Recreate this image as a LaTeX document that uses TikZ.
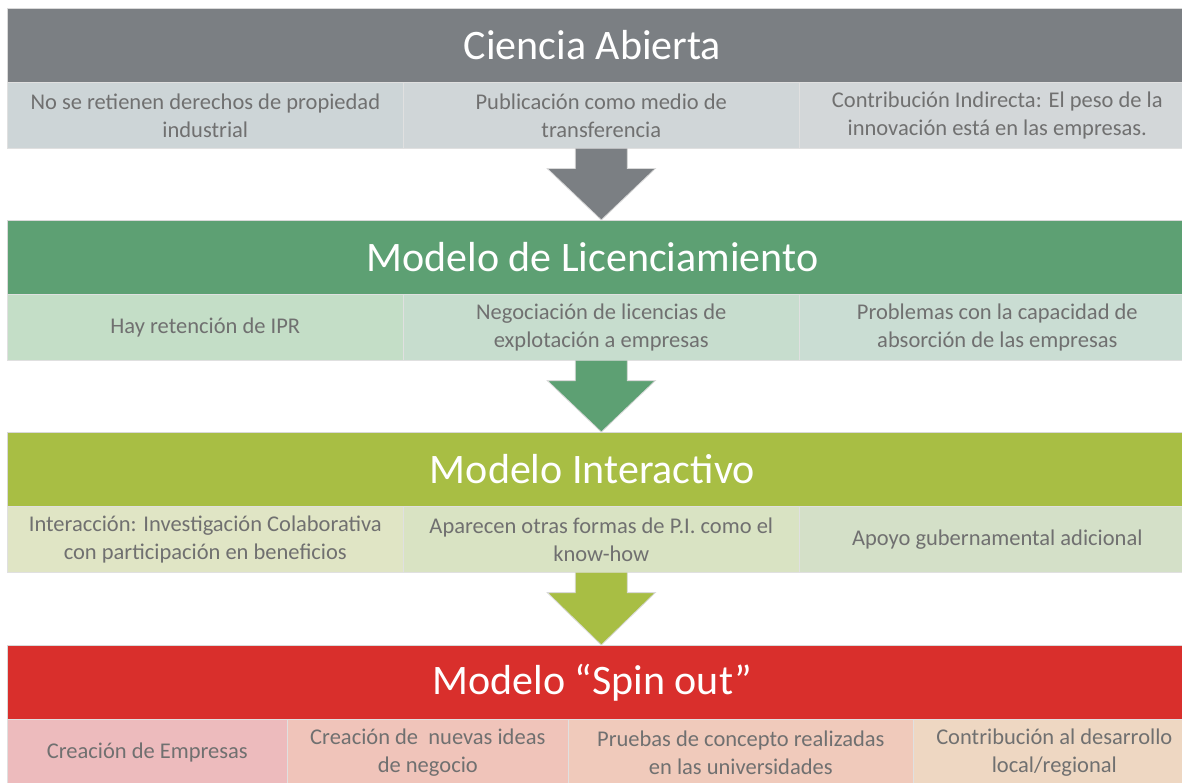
\documentclass[tikz,border=0pt]{standalone}
\usepackage{fontspec}
\setmainfont{Carlito}
\usetikzlibrary{calc}
\definecolor{txtgray}{HTML}{707070}
\definecolor{grayH}{HTML}{7B7F83}
\definecolor{grayA}{HTML}{CDD5D7}
\definecolor{grayB}{HTML}{D0D6D8}
\definecolor{grayC}{HTML}{D3D7D9}
\definecolor{greenH}{HTML}{5DA073}
\definecolor{greenA}{HTML}{C4DEC7}
\definecolor{greenB}{HTML}{C7DDCE}
\definecolor{greenC}{HTML}{CADDD3}
\definecolor{oliveH}{HTML}{A8BE44}
\definecolor{oliveA}{HTML}{E0E5C5}
\definecolor{oliveB}{HTML}{D9E3C3}
\definecolor{oliveC}{HTML}{D4E0C8}
\definecolor{redH}{HTML}{D92F2C}
\definecolor{redA}{HTML}{EDBBBD}
\definecolor{redB}{HTML}{F0C4BA}
\definecolor{redC}{HTML}{F0CABB}
\definecolor{redD}{HTML}{EED7C2}
\begin{document}
\begin{tikzpicture}[x=1pt,y=-1pt,
  hdr/.style={draw=white!85!black, line width=0.8pt, minimum height=74pt,
    minimum width=1188pt, anchor=north west, inner sep=0pt,
    font=\fontsize{42}{46}\selectfont, text=white,
    execute at begin node=\kern-18pt},
  cell/.style={draw=white!88!black, line width=0.6pt, minimum height=66pt,
    anchor=north west, inner sep=0pt, align=center,
    font=\fontsize{22.5}{28}\selectfont, text=txtgray},
  flow/.style={draw=white!85!black, line width=0.8pt}]
\useasboundingbox[fill=white] (0,0) rectangle (1182,783);

% Band 1
\node[hdr, fill=grayH] (h1) at (7,8) {Ciencia Abierta};
\node[cell, fill=grayA, minimum width=396pt] (a1) at (7,82) {No se retienen derechos de propiedad\\industrial};
\node[cell, fill=grayB, minimum width=396pt] (a2) at (403,82) {Publicación como medio de\\transferencia};
\node[cell, fill=grayC, minimum width=396pt] (a3) at (799,82) {Contribución Indirecta: El peso de la\\innovación está en las empresas.};

% Band 2
\node[hdr, fill=greenH] (h2) at (7,220) {Modelo de Licenciamiento};
\node[cell, fill=greenA, minimum width=396pt] (b1) at (7,294) {Hay retención de IPR};
\node[cell, fill=greenB, minimum width=396pt] (b2) at (403,294) {Negociación de licencias de\\explotación a empresas};
\node[cell, fill=greenC, minimum width=396pt] (b3) at (799,294) {Problemas con la capacidad de\\absorción de las empresas};

% Band 3
\node[hdr, fill=oliveH] (h3) at (7,432) {Modelo Interactivo};
\node[cell, fill=oliveA, minimum width=396pt] (c1) at (7,506) {Interacción: Investigación Colaborativa\\con participación en beneficios};
\node[cell, fill=oliveB, minimum width=396pt] (c2) at (403,506) {Aparecen otras formas de P.I. como el\\know-how};
\node[cell, fill=oliveC, minimum width=396pt] (c3) at (799,506) {Apoyo gubernamental adicional};

% Band 4
\node[hdr, fill=redH] (h4) at (7,645) {Modelo “Spin out”};
\node[cell, fill=redA, minimum width=280pt] (d1) at (7,719) {Creación de Empresas};
\node[cell, fill=redB, minimum width=281pt] (d2) at (287,719) {Creación de \ nuevas ideas\\de negocio};
\node[cell, fill=redC, minimum width=345pt] (d3) at (568,719) {Pruebas de concepto realizadas\\en las universidades};
\node[cell, fill=redD, minimum width=282pt] (d4) at (913,719) {Contribución al desarrollo\\local/regional};

% Arrows
\coordinate (s1) at (a2.south); \coordinate (t1) at (s1 |- h2.north);
\draw[flow, fill=grayH] ($(s1)+(-26,0)$) -- ($(s1)+(-26,20)$) -- ($(s1)+(-54,20)$) -- (t1) -- ($(s1)+(54,20)$) -- ($(s1)+(26,20)$) -- ($(s1)+(26,0)$);
\coordinate (s2) at (b2.south); \coordinate (t2) at (s2 |- h3.north);
\draw[flow, fill=greenH] ($(s2)+(-26,0)$) -- ($(s2)+(-26,20)$) -- ($(s2)+(-54,20)$) -- (t2) -- ($(s2)+(54,20)$) -- ($(s2)+(26,20)$) -- ($(s2)+(26,0)$);
\coordinate (s3) at (c2.south); \coordinate (t3) at (s3 |- h4.north);
\draw[flow, fill=oliveH] ($(s3)+(-26,0)$) -- ($(s3)+(-26,20)$) -- ($(s3)+(-54,20)$) -- (t3) -- ($(s3)+(54,20)$) -- ($(s3)+(26,20)$) -- ($(s3)+(26,0)$);
\end{tikzpicture}
\end{document}
